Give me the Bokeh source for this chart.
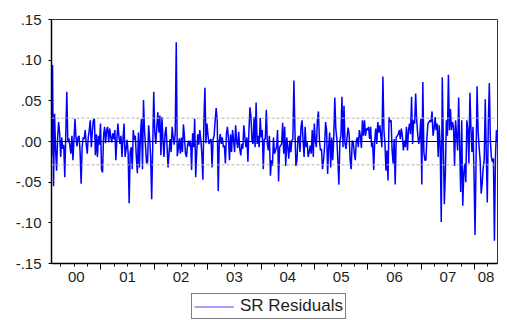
import numpy as np
import pandas as pd
from bokeh.plotting import figure
from bokeh.layouts import column
from bokeh.models import (Range1d, FixedTicker, LinearAxis, Span, Legend,
                          LegendItem, ColumnDataSource)
from bokeh.embed import file_html
from bokeh.resources import INLINE

# Weekly SR residuals, in consecutive blocks
resid_a = [-0.019, 0.094, -0.055, 0.034, -0.010, -0.036, 0.005, 0.024, 0.010, -0.019,
           0.005, -0.009, -0.004, -0.044, 0.008, 0.061, -0.001, 0.004, -0.005, -0.015,
           0.007, -0.023, 0.002, 0.028, 0.005, -0.006, 0.005, 0.007, -0.012, -0.052,
           -0.007, 0.005, 0.003, 0.014, -0.003, -0.015, 0.005, 0.014, 0.026, -0.007,
           0.012, 0.026, 0.028, -0.017, 0.009, -0.019, 0.007, -0.004, 0.022, -0.034,
           -0.038, 0.007, 0.018, -0.002, 0.014, 0.018, -0.001, 0.016, 0.006, -0.001,
           0.010, 0.003]
resid_b = [0.014, -0.023, 0.003, 0.022, 0.006, -0.003, 0.007, -0.019, 0.004, 0.022,
           -0.019, -0.009, 0.002, -0.015, -0.076, -0.013, -0.007, -0.034, 0.014, 0.002,
           0.007, -0.019, -0.039, 0.011, -0.032, 0.008, 0.028, -0.034, 0.051, 0.014,
           -0.006, -0.027, -0.025, 0.020, 0.004, -0.019, -0.071, -0.007, 0.061, 0.012,
           -0.003, 0.018, 0.036, 0.011, 0.032, -0.017, 0.030, 0.002, -0.019, 0.009,
           0.018, -0.006, -0.032, -0.013, 0.003, -0.013, 0.018, 0.005, -0.004, 0.010,
           0.122]
resid_c = [-0.018, -0.009, 0.004, -0.015, 0.005, -0.013, 0.021, 0.006, -0.015, -0.019,
           -0.005, 0.001, -0.006, 0.001, -0.035, 0.010, -0.007, 0.028, -0.044, -0.013,
           0.009, -0.004, 0.014, 0.002, -0.015, -0.047, 0.026, 0.066, -0.002, 0.022,
           0.008, -0.003, 0.001, 0.003, -0.032, 0.003, 0.007, 0.026, 0.041, 0.026,
           -0.061, 0.001, 0.009, -0.003, 0.005, -0.007, -0.005, -0.027, 0.009, 0.018,
           0.004, -0.023, 0.009, -0.013, 0.014, 0.002, -0.013, 0.020, 0.001, -0.008,
           0.012]
resid_d = [-0.009, -0.017, -0.003, -0.009, 0.020, 0.005, -0.007, 0.005, -0.025, 0.014,
           0.042, 0.030, 0.001, -0.003, 0.030, -0.007, 0.048, -0.003, 0.007, -0.007,
           0.029, 0.005, 0.014, -0.034, 0.003, 0.003, 0.039, -0.003, -0.011, 0.007,
           -0.042, -0.023, -0.030, 0.005, -0.015, -0.011, -0.007, 0.014, -0.049, -0.007,
           -0.005, -0.003, 0.023, -0.015, 0.018, -0.030, 0.005, -0.007, -0.021, 0.001,
           -0.013, 0.001, 0.003, 0.075, 0.014, -0.030, -0.023, 0.005, 0.007, -0.013,
           0.018, 0.026, 0.001, -0.019]
resid_e = [0.018, -0.007, -0.001, -0.019, -0.013, -0.005, -0.015, 0.014, -0.019, 0.022,
           0.001, -0.007, 0.026, 0.037, 0.001, -0.011, -0.009, -0.034, -0.023, -0.007,
           0.024, 0.014, -0.040, -0.007, 0.011, -0.032, 0.005, -0.023, 0.005, 0.054,
           0.016, 0.003, -0.023, -0.053, 0.001, 0.007, 0.055, -0.007, 0.044, -0.003,
           -0.009, 0.005, 0.017, 0.009, -0.023, -0.034, 0.001, -0.001, -0.014, -0.023,
           0.001, 0.005, -0.007, 0.014, 0.007, -0.008, 0.026, 0.007, 0.026, 0.007,
           0.016, 0.014, 0.018, 0.003]
resid_f = [0.018, -0.007, -0.001, -0.035, 0.001, 0.016, -0.003, 0.024, 0.011, 0.020,
           0.007, -0.007, 0.080, 0.014, -0.003, -0.036, -0.011, -0.048, 0.030, 0.024,
           0.026, -0.011, -0.027, 0.003, -0.053, 0.005, 0.007, 0.009, 0.014, 0.003,
           0.016, 0.007, -0.011, 0.001, -0.007, 0.018, -0.011, 0.014, 0.022, 0.009,
           0.055, -0.003, 0.026, 0.022, 0.059, 0.026, 0.009, -0.003, 0.005, 0.028,
           -0.053, 0.073, -0.013, -0.023, -0.023, 0.005, 0.022, 0.024, 0.026, 0.024,
           0.037, 0.007, 0.016]
resid_g = [0.030, 0.014, 0.022, -0.019, 0.020, -0.007, -0.099, 0.079, -0.001, -0.077,
           -0.040, 0.026, 0.007, 0.082, 0.014, 0.040, 0.014, 0.024, 0.018, -0.030,
           0.026, 0.007, -0.011, 0.054, -0.007, -0.062, 0.026, -0.079, -0.040, -0.027,
           -0.050, 0.026, 0.014, -0.027, 0.060, 0.016, -0.013, 0.018, -0.040, -0.115,
           -0.023, 0.068, 0.014, -0.007, -0.023, -0.064, -0.052, -0.032, -0.023, 0.052,
           -0.015, -0.075, 0.022, 0.072, 0.001, -0.019, -0.025, -0.021, -0.122, -0.019,
           0.014, 0.001]
resid = resid_a + resid_b + resid_c + resid_d + resid_e + resid_f + resid_g

series_name = "SR Residuals"
start_date = "2000-01-28"
std_err = 0.0287
y_ticks = [-0.15, -0.10, -0.05, 0.0, 0.05, 0.10, 0.15]
y_labels = ["-.15", "-.10", "-.05", ".00", ".05", ".10", ".15"]
years = [2000, 2001, 2002, 2003, 2004, 2005, 2006, 2007, 2008]
year_labels = ["00", "01", "02", "03", "04", "05", "06", "07", "08"]

dates = pd.date_range(start_date, periods=len(resid), freq="7D")
days_in_year = np.where(dates.is_leap_year, 366.0, 365.0)
x = np.asarray(dates.year + (dates.dayofyear - 1) / days_in_year, dtype=float)
x0, x1 = float(x[0]), float(x[-1])

source = ColumnDataSource(data=dict(x=x, y=resid))

FONT = "Liberation Sans"
TXT = "#1e1e1e"

p = figure(frame_width=446, frame_height=244, x_range=Range1d(x0, x1),
           y_range=Range1d(-0.15, 0.15), output_backend="svg",
           toolbar_location=None, x_axis_location=None,
           min_border_left=51, min_border_right=10, min_border_top=19,
           min_border_bottom=29)
p.grid.visible = False
p.outline_line_color = "#333333"
p.outline_line_width = 1
p.background_fill_color = "white"
p.border_fill_color = "white"

# reference lines
p.add_layout(Span(location=0, dimension="width", line_color="black", line_width=1))
for s in (std_err, -std_err):
    p.add_layout(Span(location=s, dimension="width", line_color="#b4b4b4",
                      line_width=1, line_dash="3 2"))

r = p.line("x", "y", source=source, line_color="#0000ff", line_width=1.5)

# y axis
ya = p.yaxis[0]
ya.ticker = FixedTicker(ticks=y_ticks, minor_ticks=[])
ya.major_label_overrides = {t: l for t, l in zip(y_ticks, y_labels)}
ya.major_tick_out = 3
ya.major_tick_in = 0
ya.minor_tick_out = 0
ya.minor_tick_in = 0
ya.axis_line_width = 1.5
ya.axis_line_color = "black"
ya.major_tick_line_color = "black"
ya.major_label_text_font = FONT
ya.major_label_text_font_size = "15px"
ya.major_label_text_color = TXT
ya.major_label_standoff = 7

# x axis: year boundary ticks + quarter minor ticks
year_ticks = [float(yv) for yv in years if x0 < yv < x1]
quarter_ticks = [yv + q for yv in years for q in (0.25, 0.5, 0.75) if x0 < yv + q < x1]
xa = LinearAxis(ticker=FixedTicker(ticks=year_ticks, minor_ticks=quarter_ticks),
                major_tick_out=6, major_tick_in=0, minor_tick_out=3, minor_tick_in=0,
                major_label_overrides={t: "" for t in year_ticks},
                major_label_text_font_size="1px", major_label_standoff=0,
                axis_line_width=1.5, axis_line_color="black",
                major_tick_line_color="black", minor_tick_line_color="black")
p.add_layout(xa, "below")

# x labels centred on the visible part of each year
label_pos = [(max(yv, x0) + min(yv + 1, x1)) / 2 for yv in years]
xl = LinearAxis(ticker=FixedTicker(ticks=label_pos, minor_ticks=[]),
                major_label_overrides={t: l for t, l in zip(label_pos, year_labels)},
                axis_line_color=None, major_tick_line_color=None,
                minor_tick_line_color=None, major_tick_out=0, major_tick_in=0,
                major_label_standoff=2, major_label_text_font=FONT,
                major_label_text_font_size="15px", major_label_text_color=TXT)
p.add_layout(xl, "below")

# legend strip beneath the chart (its frame is aligned with the chart's frame)
lf = figure(width=507, height=28, output_backend="svg", toolbar_location=None,
            x_axis_location=None, y_axis_location=None, min_border=0,
            x_range=Range1d(0, 1), y_range=Range1d(0, 1))
lf.grid.visible = False
lf.outline_line_color = None
lf.border_fill_color = "white"
lf.background_fill_color = "white"
# same series, outside this strip's ranges: only its legend sample shows
lr = lf.line("x", "y", source=source, line_color="#4b4bff", line_width=1.2)
legend = Legend(items=[LegendItem(label=series_name, renderers=[lr])],
                location=(140, 1), orientation="horizontal",
                border_line_color="black", border_line_width=1,
                label_text_font=FONT, label_text_font_size="17px",
                label_text_color=TXT, label_height=15,
                glyph_width=40, glyph_height=15, padding=2, margin=0,
                label_standoff=6, background_fill_alpha=1)
lf.add_layout(legend, "center")

layout = column(p, lf, spacing=0)
open("out.html", "w").write(file_html(layout, INLINE))
